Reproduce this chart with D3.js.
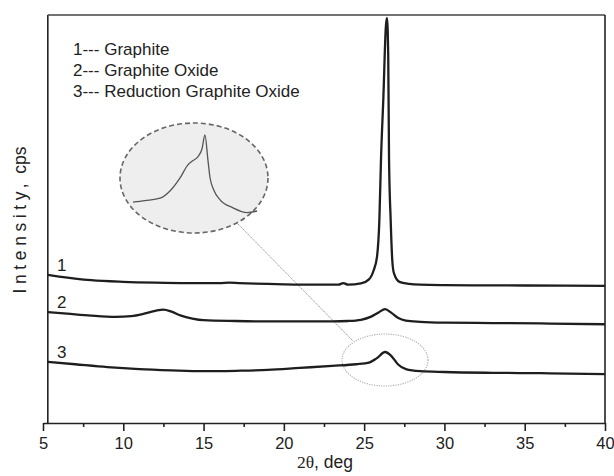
<!DOCTYPE html>
<html>
<head>
<meta charset="utf-8">
<script src="https://cdn.jsdelivr.net/npm/d3@7"></script>
<style>
  body { margin: 0; background: #fff; }
  text { font-family: "Liberation Sans", Arial, sans-serif; fill: #222; }
</style>
</head>
<body>
<svg id="chart" width="614" height="476"></svg>
<script>
// 2theta (deg) and intensity (arbitrary)
var theta1 = [5.3, 6, 7, 8, 10, 12, 14, 16, 16.6, 17.2, 20, 22, 23.4, 23.7, 24.0, 24.8, 25.3, 25.6, 25.8, 25.95, 26.05, 26.2, 26.35, 26.42, 26.5, 26.55, 26.65, 26.75, 26.85, 27.2, 27.8, 28.5, 30, 35, 40];
var graphite = [36.3, 35.9, 35.4, 35.0, 34.6, 34.4, 34.3, 34.3, 34.4, 34.3, 34.0, 33.9, 33.9, 34.3, 33.9, 34.2, 35.2, 37.5, 40.7, 50, 64.7, 80, 97, 99.3, 90, 64.7, 50, 40, 36.8, 34.6, 34.1, 33.9, 33.8, 33.7, 33.6];

var theta2 = [5.3, 6.5, 8, 9.5, 10.5, 11.3, 12.0, 12.5, 13.0, 13.6, 14.3, 15, 17, 19, 21, 23, 24, 24.8, 25.4, 25.9, 26.3, 26.7, 27.1, 27.6, 28.5, 30, 33, 36, 40];
var graphiteOxide = [27.2, 26.8, 26.3, 26.0, 26.2, 26.8, 27.5, 27.8, 27.3, 26.3, 25.6, 25.2, 25.0, 24.9, 24.9, 24.9, 25.0, 25.3, 26.0, 27.1, 27.9, 27.0, 25.8, 25.1, 24.8, 24.6, 24.5, 24.4, 24.2];

var theta3 = [5.3, 7, 9, 11, 13, 15, 17, 19, 21, 23, 24.5, 25.3, 25.8, 26.3, 26.7, 27.1, 27.6, 28.5, 30, 33, 36, 40];
var reducedOxide = [15.0, 14.4, 13.7, 13.2, 12.9, 12.7, 12.8, 13.0, 13.5, 14.0, 14.4, 14.8, 15.9, 17.4, 16.4, 14.4, 13.2, 12.7, 12.5, 12.3, 12.2, 12.0];

// magnified view of the reduced oxide peak
var thetaInset = [23.4, 23.88, 24.49, 24.89, 25.29, 25.62, 25.82, 26.02, 26.18, 26.30, 26.42, 26.50, 26.66, 26.91, 27.43, 28.0, 28.4];
var inset = [0.16, 0.18, 0.21, 0.30, 0.46, 0.63, 0.68, 0.73, 0.825, 1.0, 0.69, 0.475, 0.31, 0.19, 0.09, 0.03, 0.05];

var xTicks = [5, 10, 15, 20, 25, 30, 35, 40];
var xMinor = [7.5, 12.5, 17.5, 22.5, 27.5, 32.5, 37.5];
var legendLabels = ["1--- Graphite", "2--- Graphite Oxide", "3--- Reduction Graphite Oxide"];
var curveLabels = ["1", "2", "3"];

var svg = d3.select("#chart");

var x = d3.scaleLinear().domain([5, 40]).range([43, 605]);
var y = d3.scaleLinear().domain([0, 100]).range([423, 15]);

var xIn = d3.scaleLinear().domain([23.4, 28.6]).range([133, 262]);
var yIn = d3.scaleLinear().domain([0, 1]).range([215, 135]);

// frame
svg.append("line").attr("x1", x(5.3)).attr("x2", x(5.3)).attr("y1", y(100)).attr("y2", y(0))
    .attr("stroke", "#222").attr("stroke-width", 1.6);
svg.append("line").attr("x1", x(5.3)).attr("x2", x(40)).attr("y1", y(100)).attr("y2", y(100))
    .attr("stroke", "#444").attr("stroke-width", 1.4);
svg.append("line").attr("x1", x(40)).attr("x2", x(40)).attr("y1", y(100)).attr("y2", y(0))
    .attr("stroke", "#222").attr("stroke-width", 1.6);

// x axis
var xAxis = d3.axisBottom(x).tickValues(xTicks).tickSize(8).tickSizeOuter(0).tickPadding(6);
var gx = svg.append("g").attr("transform", "translate(0," + y(0) + ")").call(xAxis);
gx.select(".domain").attr("stroke", "#222").attr("stroke-width", 1.6);
gx.selectAll(".tick line").attr("stroke", "#222").attr("stroke-width", 1.6);
gx.selectAll(".tick text").attr("font-size", 16.5).attr("fill", "#222")
    .style("font-family", "'Liberation Sans', Arial, sans-serif");

svg.append("g").attr("transform", "translate(0," + y(0) + ")")
    .call(d3.axisBottom(x).tickValues(xMinor).tickSize(4).tickFormat(""))
    .call(function (g) { g.select(".domain").remove(); })
    .selectAll(".tick line").attr("stroke", "#222").attr("stroke-width", 1.6);

// axis titles
var xt = svg.append("text").attr("x", 325).attr("y", 468).attr("text-anchor", "middle").attr("font-size", 17.5);
xt.append("tspan").style("font-family", "'Liberation Serif', 'Times New Roman', serif").text("2θ");
xt.append("tspan").text(", deg");

var yt = svg.append("text").attr("transform", "translate(26,220) rotate(-90)")
    .attr("text-anchor", "middle").attr("font-size", 17.5);
yt.append("tspan").attr("letter-spacing", "4.6px").text("Intensity,");
yt.append("tspan").text(" cps");

// legend text
svg.selectAll(".legend").data(legendLabels).enter().append("text")
    .attr("class", "legend")
    .attr("x", 73).attr("y", function (d, i) { return 55 + i * 21; })
    .attr("font-size", 17)
    .text(function (d) { return d; });

// magnified inset
svg.append("ellipse").attr("cx", 194).attr("cy", 178).attr("rx", 74).attr("ry", 55)
    .attr("fill", "#eeeeee").attr("stroke", "#666").attr("stroke-width", 1.6)
    .attr("stroke-dasharray", "5,3");

svg.append("line").attr("x1", 238).attr("y1", 224).attr("x2", 353).attr("y2", 341)
    .attr("stroke", "#999").attr("stroke-width", 1).attr("stroke-dasharray", "1.5,0.8");

svg.append("ellipse").attr("cx", x(26.3)).attr("cy", 360).attr("rx", 43).attr("ry", 26)
    .attr("fill", "none").attr("stroke", "#aaa").attr("stroke-width", 1.1)
    .attr("stroke-dasharray", "1.2,1.2");

var insetLine = d3.line()
    .x(function (d, i) { return xIn(thetaInset[i]); })
    .y(function (d) { return yIn(d); })
    .curve(d3.curveMonotoneX);
svg.append("path").datum(inset).attr("d", insetLine)
    .attr("fill", "none").attr("stroke", "#555").attr("stroke-width", 1.3);

// diffraction curves
var series = [[theta1, graphite], [theta2, graphiteOxide], [theta3, reducedOxide]];
series.forEach(function (s) {
    var line = d3.line()
        .x(function (d, i) { return x(s[0][i]); })
        .y(function (d) { return y(d); })
        .curve(d3.curveMonotoneX);
    svg.append("path").datum(s[1]).attr("d", line)
        .attr("fill", "none").attr("stroke", "#1e1e1e").attr("stroke-width", 2.3)
        .attr("stroke-linejoin", "round");
});

// curve numbers
svg.selectAll(".cl").data(curveLabels).enter().append("text")
    .attr("class", "cl")
    .attr("x", 57)
    .attr("y", function (d, i) { return y(series[i][1][0]) - 4; })
    .attr("font-size", 17)
    .text(function (d) { return d; });
</script>
</body>
</html>
